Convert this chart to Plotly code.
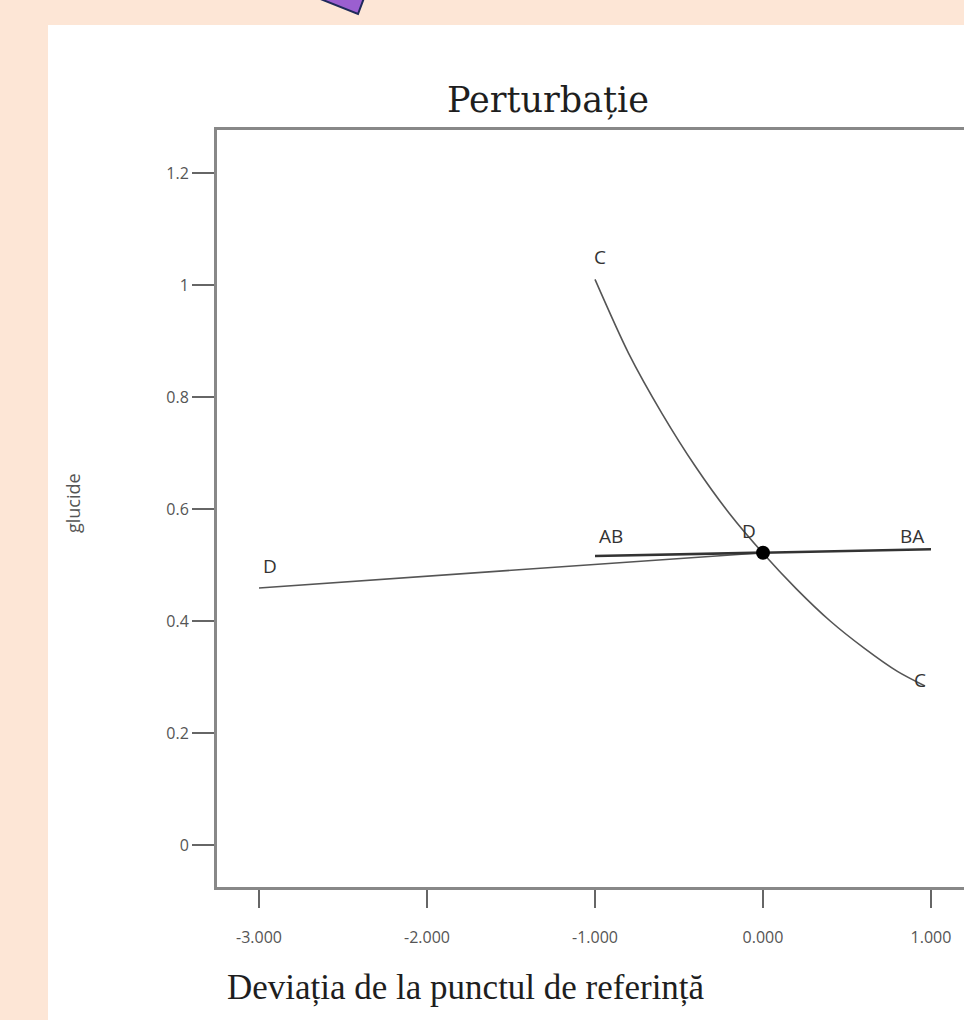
import plotly.graph_objects as go

# ---- data ----
d_x = [-3.0, -2.0, -1.0, 0.0]
d_y = [0.459, 0.480, 0.501, 0.522]

ab_x = [-1.0, 0.0, 1.0]
ab_y = [0.516, 0.522, 0.528]

c_x = [-1.0, -0.8, -0.6, -0.4, -0.2, 0.0, 0.2, 0.4, 0.6, 0.8, 0.964]
c_y = [1.01, 0.878, 0.770, 0.675, 0.592, 0.521, 0.457, 0.400, 0.352, 0.310, 0.284]

eq_x = [0.0]
eq_y = [0.522]

x_ticks = [-3, -2, -1, 0, 1]
x_ticktext = ["-3.000", "-2.000", "-1.000", "0.000", "1.000"]
y_ticks = [0, 0.2, 0.4, 0.6, 0.8, 1.0, 1.2]
y_ticktext = ["0", "0.2", "0.4", "0.6", "0.8", "1", "1.2"]

labels = ["C", "AB", "D", "BA", "D", "C"]
label_x = [-0.97, -0.905, -0.083, 0.887, -2.935, 0.935]
label_y = [1.05, 0.552, 0.561, 0.552, 0.498, 0.295]

# ---- layout geometry (pixels) ----
W, H = 964, 1020
L, R, T, B = 217, 0, 130, 133
PW, PH = W - L - R, H - T - B


def px(x):
    return (x - L) / PW


def py(y):
    return (H - B - y) / PH


fig = go.Figure()
fig.add_trace(go.Scatter(x=d_x, y=d_y, mode="lines",
                         line=dict(color="#555555", width=1.6), hoverinfo="skip"))
fig.add_trace(go.Scatter(x=ab_x, y=ab_y, mode="lines",
                         line=dict(color="#333333", width=2.6), hoverinfo="skip"))
fig.add_trace(go.Scatter(x=c_x, y=c_y, mode="lines",
                         line=dict(color="#555555", width=1.6, shape="spline",
                                   smoothing=0.8),
                         hoverinfo="skip"))
fig.add_trace(go.Scatter(x=eq_x, y=eq_y, mode="markers",
                         marker=dict(color="black", size=14), hoverinfo="skip"))

for t, x, y in zip(labels, label_x, label_y):
    fig.add_annotation(x=x, y=y, xref="x", yref="y", text=t, showarrow=False,
                       font=dict(family="Open Sans", size=19, color="#333333"))

# titles as annotations
fig.add_annotation(x=px(548), y=py(100), xref="paper", yref="paper",
                   xanchor="center", yanchor="middle",
                   text="Perturbație", showarrow=False,
                   font=dict(family="DejaVu Serif", size=35, color="#1e1e1e"))
fig.add_annotation(x=px(466), y=py(988), xref="paper", yref="paper",
                   xanchor="center", yanchor="middle",
                   text="Deviația de la punctul de referință", showarrow=False,
                   font=dict(family="Liberation Serif", size=35, color="#1e1e1e"))
fig.add_annotation(x=px(73), y=py(503), xref="paper", yref="paper",
                   xanchor="center", yanchor="middle",
                   text="glucide", showarrow=False, textangle=-90,
                   font=dict(family="Open Sans", size=18, color="#555555"))

# white card and decorative purple shape
fig.add_shape(type="rect", xref="paper", yref="paper",
              x0=px(48), x1=px(964), y0=py(1020), y1=py(25),
              fillcolor="white", line=dict(width=0), layer="below")
fig.add_shape(type="path", xref="paper", yref="paper",
              path=f"M {px(318)},{py(-2)} L {px(358)},{py(14)} L {px(364)},{py(-2)} Z",
              fillcolor="#9B5FD0", line=dict(color="#1F2A5A", width=2))

fig.update_layout(
    width=W, height=H,
    margin=dict(l=L, r=R, t=T, b=B, pad=0),
    paper_bgcolor="#FDE6D6",
    plot_bgcolor="white",
    showlegend=False,
    xaxis=dict(range=[-3.25, -3.25 + PW / 168.0], tickvals=x_ticks, ticktext=x_ticktext,
               showgrid=False, zeroline=False, showline=True, mirror=True,
               linecolor="#888888", linewidth=3, ticks="outside", ticklen=18,
               tickwidth=2, tickcolor="#666666", ticklabelstandoff=16,
               tickfont=dict(family="Open Sans", size=16, color="#555555")),
    yaxis=dict(range=[-0.075, 1.2768], tickvals=y_ticks, ticktext=y_ticktext,
               showgrid=False, zeroline=False, showline=True, mirror=False,
               linecolor="#888888", linewidth=3, ticks="outside", ticklen=22,
               tickwidth=2, tickcolor="#666666",
               tickfont=dict(family="Open Sans", size=16, color="#555555")),
)

fig.write_html("out.html")
